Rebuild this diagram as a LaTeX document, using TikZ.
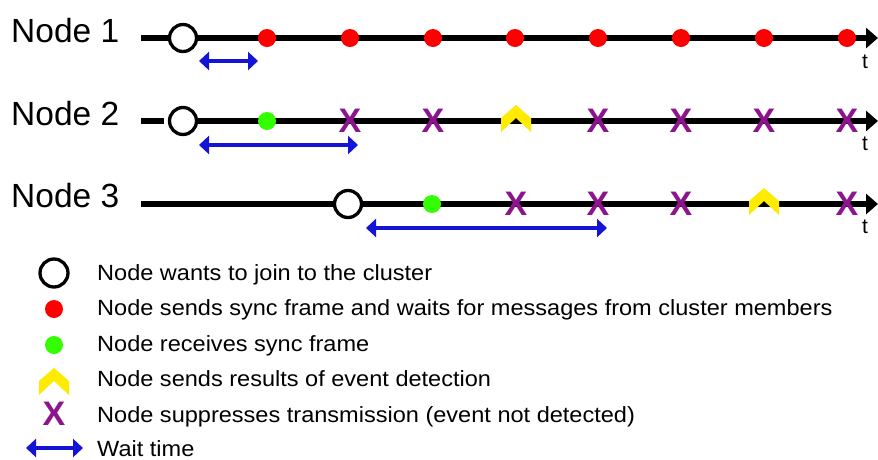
\documentclass[tikz,border=0pt]{standalone}
\usepackage{fontspec}
\setmainfont{Liberation Sans}
\newfontfamily\legfont[FakeStretch=1.07]{Liberation Sans}
\usetikzlibrary{arrows.meta}
\definecolor{dotred}{RGB}{255,0,0}
\definecolor{dotgreen}{RGB}{51,255,0}
\definecolor{chevyellow}{RGB}{255,235,0}
\definecolor{xpurple}{RGB}{140,20,140}
\definecolor{waitblue}{RGB}{20,20,215}
\tikzset{
  timeline/.style={line width=5.5pt,-{Triangle[length=12pt,width=20pt]}},
  joincirc/.style={circle,draw=black,line width=3.3pt,fill=white,minimum size=27pt,inner sep=0pt},
  reddot/.style={circle,fill=dotred,minimum size=18pt,inner sep=0pt},
  greendot/.style={circle,fill=dotgreen,minimum size=18pt,inner sep=0pt},
  xmark/.style={inner sep=0pt,text=xpurple,font=\bfseries\fontsize{34}{34}\selectfont},
  chevpt/.style={inner sep=0pt,minimum size=0pt},
  chev/.style={fill=chevyellow},
  wait/.style={draw=waitblue,line width=4pt,{Triangle[length=10pt,width=18pt]}-{Triangle[length=10pt,width=18pt]}},
  rowlabel/.style={anchor=base west,inner sep=0pt,font=\fontsize{33.5}{33.5}\selectfont},
  tlabel/.style={anchor=base,inner sep=0pt,font=\fontsize{21}{21}\selectfont},
  legtext/.style={anchor=base west,inner sep=0pt,font=\legfont\fontsize{22}{22}\selectfont}
}
\newcommand{\chevron}[1]{\fill[chev] (#1) ++(0,-16) -- ++(15,13) -- ++(0,14) -- ++(-15,-14) -- ++(-15,14) -- ++(0,-14) -- cycle;}
\begin{document}
\begin{tikzpicture}[x=1pt,y=-1pt]
\useasboundingbox (0,0) rectangle (878,459);
% row labels
\node[rowlabel] (lab1) at (11,42) {Node 1};
\node[rowlabel] (lab2) at (11,125) {Node 2};
\node[rowlabel] (lab3) at (11,207) {Node 3};
% timelines
\coordinate (s1) at (141,38); \coordinate (e1) at (878,38);
\coordinate (s2) at (141,121); \coordinate (g2) at (164,121); \coordinate (h2) at (168,121); \coordinate (e2) at (878,121);
\coordinate (s3) at (141,204); \coordinate (e3) at (878,204);
\draw[timeline] (s1) -- (e1);
\draw[line width=5.5pt] (s2) -- (g2);
\draw[timeline] (h2) -- (e2);
\draw[timeline] (s3) -- (e3);
\node[tlabel] (t1) at (865,68) {t};
\node[tlabel] (t2) at (865,150) {t};
\node[tlabel] (t3) at (865,233) {t};
% row 1
\node[joincirc] (r1c) at (183,38) {};
\foreach \x [count=\i] in {267,350,433,515,598,681,764,847}
  \node[reddot] (r1d\i) at (\x,38) {};
% row 2
\node[joincirc] (r2c) at (183,121) {};
\node[greendot] (r2g) at (267,121) {};
\foreach \x [count=\i] in {350,433,598,681,764,847}
  \node[xmark] (r2x\i) at (\x,121) {X};
\node[chevpt] (r2y) at (516,121) {};
\chevron{r2y}
% row 3
\node[joincirc] (r3c) at (348,204) {};
\node[greendot] (r3g) at (432,204) {};
\foreach \x [count=\i] in {516,598,681,847}
  \node[xmark] (r3x\i) at (\x,204) {X};
\node[chevpt] (r3y) at (764,204) {};
\chevron{r3y}
% wait times
\coordinate (w1a) at (199,61); \coordinate (w1b) at (258,61);
\coordinate (w2a) at (199,145); \coordinate (w2b) at (358,145);
\coordinate (w3a) at (366,228); \coordinate (w3b) at (607,228);
\draw[wait] (w1a) -- (w1b);
\draw[wait] (w2a) -- (w2b);
\draw[wait] (w3a) -- (w3b);
% legend
\node[joincirc,minimum size=28pt] (lc) at (54,273) {};
\node[reddot] (ld) at (54,309) {};
\node[greendot] (lg) at (54,345) {};
\node[chevpt] (ly) at (54,384) {};
\chevron{ly}
\node[xmark] (lx) at (54,414) {X};
\coordinate (la) at (26,448); \coordinate (lb) at (83,448);
\draw[wait] (la) -- (lb);
\node[legtext] (lt1) at (97,280) {Node wants to join to the cluster};
\node[legtext] (lt2) at (97,315.5) {Node sends sync frame and waits for messages from cluster members};
\node[legtext] (lt3) at (97,351) {Node receives sync frame};
\node[legtext] (lt4) at (97,386.5) {Node sends results of event detection};
\node[legtext] (lt5) at (97,422) {Node suppresses transmission (event not detected)};
\node[legtext] (lt6) at (97,456) {Wait time};
\end{tikzpicture}
\end{document}
